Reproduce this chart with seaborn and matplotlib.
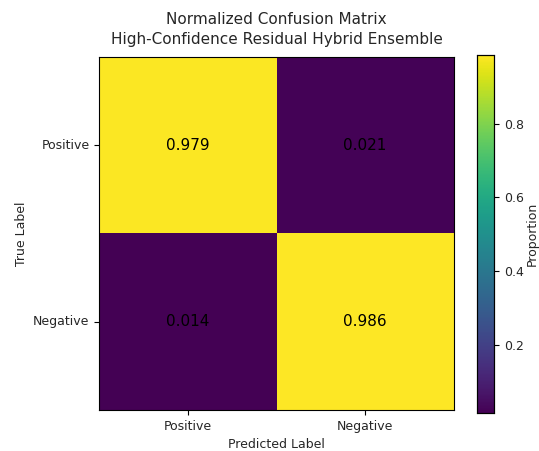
import numpy as np
import pandas as pd
import matplotlib
matplotlib.use("Agg")
import matplotlib.pyplot as plt
import seaborn as sns

labels = ["Positive", "Negative"]
row_positive = [0.979, 0.021]
row_negative = [0.014, 0.986]
cbar_ticks = [0.2, 0.4, 0.6, 0.8]

cm = pd.DataFrame([row_positive, row_negative], index=labels, columns=labels)

sns.set_style("white")
plt.rcParams["font.family"] = ["DejaVu Sans"]

fig = plt.figure(figsize=(5.39, 4.51), dpi=100)
ax = fig.add_axes([0.184, 0.091, 0.658, 0.783])
cax = fig.add_axes([0.885, 0.084, 0.032, 0.794])

sns.heatmap(cm, ax=ax, cbar_ax=cax, cmap="viridis", annot=True, fmt=".3f",
            annot_kws={"color": "black", "fontsize": 11}, square=False,
            linewidths=0, cbar_kws={"ticks": cbar_ticks})

for spine in ax.spines.values():
    spine.set_visible(True)
    spine.set_color("black")
    spine.set_linewidth(0.8)
for spine in cax.spines.values():
    spine.set_visible(True)
    spine.set_color("black")
    spine.set_linewidth(0.8)

ax.tick_params(axis="both", which="both", length=3.5, width=0.8, labelsize=9,
               bottom=True, left=True, color="black")
ax.set_yticklabels(labels, rotation=0)
ax.set_xticklabels(labels, rotation=0)
ax.set_xlabel("Predicted Label", fontsize=9)
ax.set_ylabel("True Label", fontsize=9)
ax.set_title("Normalized Confusion Matrix\nHigh-Confidence Residual Hybrid Ensemble",
             fontsize=11, pad=9, linespacing=1.45)

cax.tick_params(labelsize=9, length=3.5, width=0.8, right=True, color="black")
cax.set_ylabel("Proportion", fontsize=9, labelpad=1)

fig.savefig("out.png", dpi=100)
